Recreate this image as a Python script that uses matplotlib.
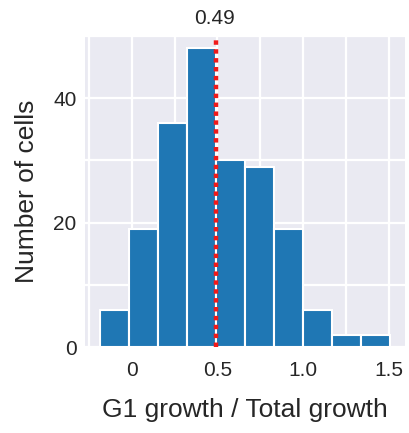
import numpy as np
import matplotlib
matplotlib.use("Agg")
import matplotlib.pyplot as plt
import seaborn as sns
from matplotlib.ticker import MultipleLocator, FixedLocator
import matplotlib.transforms as mtransforms

# Data
bin_edges = [-0.186, -0.017, 0.152, 0.322, 0.491, 0.660, 0.829, 0.998, 1.168, 1.337, 1.506]
counts = [6, 19, 36, 48, 30, 29, 19, 6, 2, 2]
mean_value = 0.49
mean_label = "0.49"
x_ticks = [0, 0.5, 1.0, 1.5]
x_tick_labels = ["0", "0.5", "1.0", "1.5"]
y_ticks = [0, 20, 40]
x_label = "G1 growth / Total growth"
y_label = "Number of cells"

sns.set_style("darkgrid")
plt.rcParams['font.family'] = ['Liberation Sans', 'DejaVu Sans']

fig = plt.figure(figsize=(4.09, 4.33), dpi=100)
ax = fig.add_axes([0.208, 0.1986, 0.990 - 0.208, 0.917 - 0.1986])
ax.set_facecolor("#EAEAF2")

edges = np.array(bin_edges)
ax.bar(edges[:-1], counts, width=np.diff(edges), align='edge',
       color="#1f77b4", edgecolor="white", linewidth=1.5, zorder=2)

ax.axvline(mean_value, color="#f01a1a", linestyle=(0, (1, 1)), linewidth=3.2, zorder=3)
trans = mtransforms.blended_transform_factory(ax.transData, ax.transAxes)
ax.text(mean_value - 0.01, 1.025, mean_label, transform=trans, ha='center', va='bottom',
        fontsize=15, color="#262626")

ax.set_ylim(0, 50)
ax.xaxis.set_major_locator(FixedLocator(x_ticks))
ax.set_xticklabels(x_tick_labels)
ax.xaxis.set_minor_locator(MultipleLocator(0.25))
ax.yaxis.set_major_locator(FixedLocator(y_ticks))
ax.yaxis.set_minor_locator(MultipleLocator(10))
ax.grid(which='both', color='white', linewidth=1.6, zorder=0)
ax.set_axisbelow(True)
ax.tick_params(which='both', length=0)
ax.tick_params(axis='x', labelsize=15, pad=10, labelcolor="#262626")
ax.tick_params(axis='y', labelsize=15, pad=6, labelcolor="#262626")
for s in ax.spines.values():
    s.set_visible(False)

ax.set_xlabel(x_label, fontsize=19, color="#262626", labelpad=13)
ax.set_ylabel(y_label, fontsize=19, color="#262626", labelpad=10)

fig.savefig("out.png", dpi=100)
